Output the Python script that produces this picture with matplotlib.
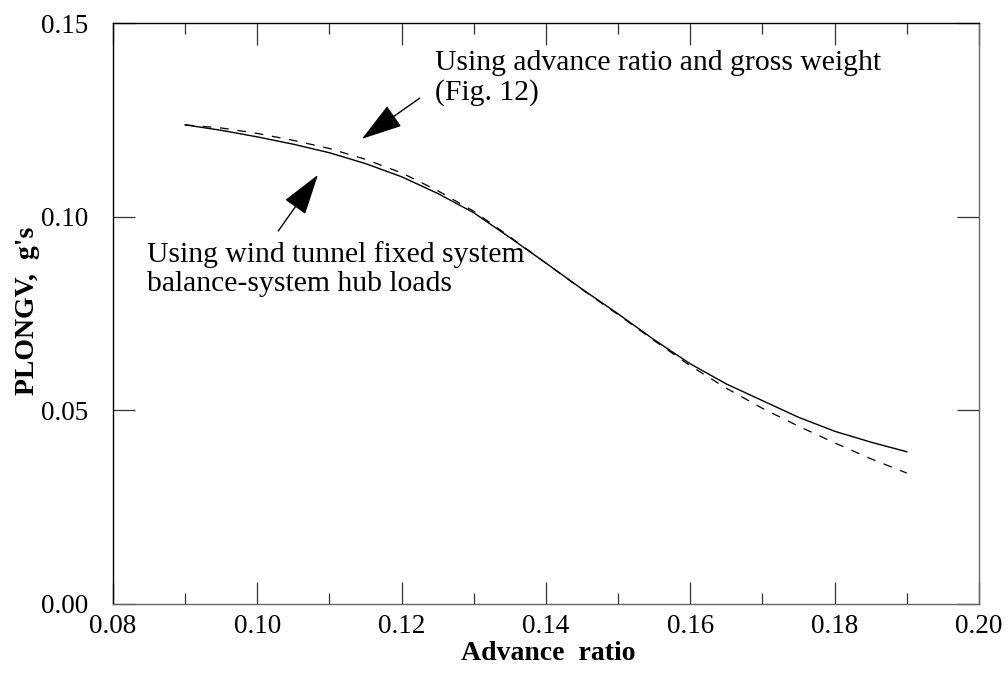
import matplotlib.pyplot as plt
from matplotlib.ticker import MultipleLocator, FormatStrFormatter

plt.rcParams["font.family"] = ["Liberation Serif", "DejaVu Serif"]

# advance ratio values
advance_ratio = [0.090, 0.095, 0.100, 0.105, 0.110, 0.115, 0.120, 0.125, 0.130, 0.135,
                 0.140, 0.145, 0.150, 0.155, 0.160, 0.165, 0.170, 0.175, 0.180, 0.185, 0.190]

# wind tunnel balance-system hub loads (solid)
plongv_balance = [0.1237, 0.1223, 0.1206, 0.1187, 0.1165, 0.1137, 0.1103, 0.1060, 0.1010, 0.0946,
                  0.0880, 0.0813, 0.0749, 0.0682, 0.0620, 0.0568, 0.0525, 0.0482, 0.0446, 0.0418, 0.0393]

# advance ratio and gross weight (dashed)
plongv_gross = [0.1237, 0.1229, 0.1215, 0.1197, 0.1176, 0.1148, 0.1113, 0.1067, 0.1014, 0.0948,
                0.0880, 0.0812, 0.0747, 0.0680, 0.0615, 0.0557, 0.0505, 0.0459, 0.0416, 0.0375, 0.0338]


def main() -> None:
    fig = plt.figure(figsize=(10.08, 6.83), dpi=100)
    ax = fig.add_axes([0.1121, 0.1157, 0.8591, 0.8506])

    ax.plot(advance_ratio, plongv_balance, color="black", linewidth=1.0)
    ax.plot(advance_ratio, plongv_gross, color="black", linewidth=0.9, dashes=(7, 7))

    ax.set_xlim(0.08, 0.20)
    ax.set_ylim(0.0, 0.15)
    ax.xaxis.set_major_locator(MultipleLocator(0.02))
    ax.xaxis.set_minor_locator(MultipleLocator(0.01))
    ax.yaxis.set_major_locator(MultipleLocator(0.05))
    ax.xaxis.set_major_formatter(FormatStrFormatter("%.2f"))
    ax.yaxis.set_major_formatter(FormatStrFormatter("%.2f"))

    ax.tick_params(which="both", direction="in", top=True, right=True, width=0.9, color="#333333")
    ax.tick_params(which="major", length=16, labelsize=19.5)
    ax.tick_params(which="minor", length=8)
    ax.tick_params(axis="x", which="major", pad=7)
    ax.tick_params(axis="y", which="major", pad=17.5)

    for side in ["left", "top"]:
        ax.spines[side].set_color("black")
        ax.spines[side].set_linewidth(1.0)
    for side in ["bottom", "right"]:
        ax.spines[side].set_color("#666666")
        ax.spines[side].set_linewidth(1.0)

    ax.set_xlabel("Advance  ratio", fontsize=20, fontweight="bold", va="center")
    ax.set_ylabel("PLONGV,  g's", fontsize=20, fontweight="bold", va="center")
    ax.xaxis.set_label_coords(0.503, -0.085)
    ax.yaxis.set_label_coords(-0.099, 0.504)

    arrow_style = dict(arrowstyle="-|>,head_length=1.3,head_width=0.4", color="black",
                       linewidth=1.0, mutation_scale=20, shrinkA=0, shrinkB=0)

    ax.annotate("", xy=(0.1145, 0.1201), xytext=(0.1225, 0.1306),
                arrowprops=arrow_style)
    ax.text(0.1246, 0.1358, "Using advance ratio and gross weight\n(Fig. 12)",
            fontsize=21.3, ha="left", va="center", linespacing=1.15)

    ax.annotate("", xy=(0.1084, 0.1108), xytext=(0.1029, 0.0963),
                arrowprops=arrow_style)
    ax.text(0.0847, 0.0866, "Using wind tunnel fixed system\nbalance-system hub loads",
            fontsize=21.3, ha="left", va="center", linespacing=1.15)

    fig.savefig("out.png", dpi=100)
    plt.close(fig)


if __name__ == "__main__":
    main()
